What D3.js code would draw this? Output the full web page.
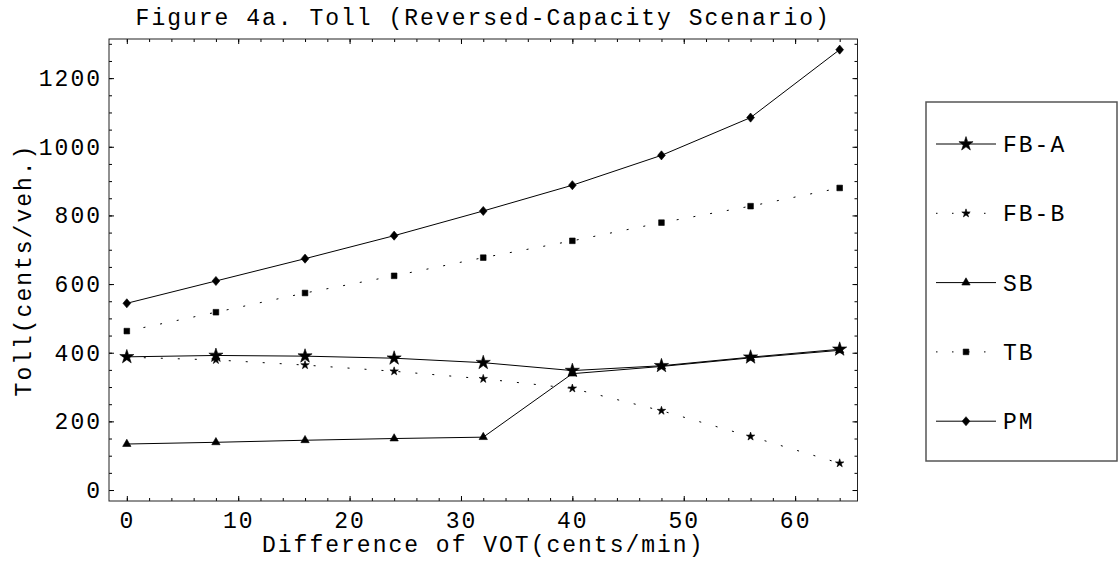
<!doctype html>
<html>

<head>
  <meta charset="UTF-8">
  <title>Figure 4a. Toll</title>
  <script src="https://d3js.org/d3.v7.min.js"></script>
  <style>
    body { margin: 0; background: #fff; }
    text { font-family: "Courier New", Courier, "Liberation Mono", monospace; fill: #000; letter-spacing: 2px; }
  </style>
</head>

<body>
  <script>
    // data
    var vot = [0, 8, 16, 24, 32, 40, 48, 56, 64];
    var fbA = [388, 392, 390, 384, 371, 348, 362, 387, 410];
    var fbB = [387, 379, 364, 346, 324, 296, 231, 156, 78];
    var sb  = [134, 139, 145, 150, 154, 339, 360, 385, 407];
    var tb  = [463, 518, 574, 624, 677, 726, 779, 827, 880];
    var pm  = [544, 609, 674, 741, 813, 888, 975, 1085, 1283];
    var seriesNames = ["FB-A", "FB-B", "SB", "TB", "PM"];
    var xTicks = [0, 10, 20, 30, 40, 50, 60];
    var yTicks = [0, 200, 400, 600, 800, 1000, 1200];

    var w = 1118, h = 561;
    var pLeft = 109, pRight = 857.5, pTop = 39, pBottom = 501;
    var fs = 23;

    // tall diamond, like the Mathematica marker
    var tallDiamond = {
      draw: function(ctx, size) {
        var hh = Math.sqrt(size) * 0.62, hw = hh * 0.85;
        ctx.moveTo(0, -hh);
        ctx.lineTo(hw, 0);
        ctx.lineTo(0, hh);
        ctx.lineTo(-hw, 0);
        ctx.closePath();
      }
    };

    var series = [
      { name: seriesNames[0], values: fbA, dash: null, type: d3.symbolStar, size: 62 },
      { name: seriesNames[1], values: fbB, dash: "2,15", type: d3.symbolStar, size: 22 },
      { name: seriesNames[2], values: sb, dash: null, type: d3.symbolTriangle, size: 30 },
      { name: seriesNames[3], values: tb, dash: "2,15", type: d3.symbolSquare, size: 32 },
      { name: seriesNames[4], values: pm, dash: null, type: tallDiamond, size: 54 }
    ];

    var x = d3.scaleLinear().domain([-1.6, 65.6]).range([pLeft, pRight]);
    var y = d3.scaleLinear().domain([-32, 1314]).range([pBottom, pTop]);

    var svg = d3.select("body").append("svg")
      .attr("width", w)
      .attr("height", h);

    svg.append("rect").attr("width", w).attr("height", h).attr("fill", "#fff");

    // ticks on all four sides, pointing in
    function ticks(axis, tx, ty, values, size, labels, pad) {
      var g = svg.append("g")
        .attr("transform", "translate(" + tx + "," + ty + ")")
        .call(axis.tickValues(values).tickSize(-size).tickPadding(pad || 0)
          .tickFormat(labels ? d3.format("d") : ""));
      g.select(".domain").remove();
      g.selectAll("line").attr("stroke", "#000");
      g.selectAll("text").attr("font-size", fs).attr("font-family", null);
      return g;
    }

    var xMinor = d3.range(0, 66, 2);
    var yMinor = d3.range(0, 1314, 50);

    ticks(d3.axisBottom(x), 0, pBottom, xMinor, 3, false);
    ticks(d3.axisBottom(x), 0, pBottom, xTicks, 5, true, 11);
    ticks(d3.axisTop(x), 0, pTop, xMinor, 3, false);
    ticks(d3.axisTop(x), 0, pTop, xTicks, 5, false);
    ticks(d3.axisLeft(y), pLeft, 0, yMinor, 3, false);
    ticks(d3.axisLeft(y), pLeft, 0, yTicks, 5, true, 7);
    ticks(d3.axisRight(y), pRight, 0, yMinor, 3, false);
    ticks(d3.axisRight(y), pRight, 0, yTicks, 5, false);

    svg.append("rect")
      .attr("x", pLeft).attr("y", pTop)
      .attr("width", pRight - pLeft).attr("height", pBottom - pTop)
      .attr("fill", "none").attr("stroke", "#222").attr("stroke-width", 1);

    // lines
    var line = d3.line()
      .x(function(d, i) { return x(vot[i]); })
      .y(function(d) { return y(d); });

    svg.selectAll("path.series")
      .data(series)
      .enter().append("path")
      .attr("class", "series")
      .attr("d", function(s) { return line(s.values); })
      .attr("fill", "none")
      .attr("stroke", "#000")
      .attr("stroke-width", 1)
      .attr("stroke-dasharray", function(s) { return s.dash; });

    // markers
    series.forEach(function(s) {
      svg.selectAll(null)
        .data(s.values)
        .enter().append("path")
        .attr("transform", function(d, i) { return "translate(" + x(vot[i]) + "," + y(d) + ")"; })
        .attr("d", d3.symbol().type(s.type).size(s.size))
        .attr("fill", "#000")
        .attr("stroke", "#000")
        .attr("stroke-width", 0.6)
        .attr("stroke-linejoin", "round");
    });

    // titles
    svg.append("text")
      .attr("x", (pLeft + pRight) / 2).attr("y", 25)
      .attr("text-anchor", "middle").attr("font-size", fs)
      .text("Figure 4a. Toll (Reversed-Capacity Scenario)");

    svg.append("text")
      .attr("x", (pLeft + pRight) / 2).attr("y", 552)
      .attr("text-anchor", "middle").attr("font-size", fs)
      .text("Difference of VOT(cents/min)");

    svg.append("text")
      .attr("transform", "translate(31," + (pTop + pBottom) / 2 + ") rotate(-90)")
      .attr("text-anchor", "middle").attr("font-size", fs)
      .text("Toll(cents/veh.)");

    // legend
    var lg = svg.append("g");
    lg.append("rect")
      .attr("x", 926).attr("y", 102).attr("width", 191).attr("height", 359)
      .attr("fill", "#fff").attr("stroke", "#555").attr("stroke-width", 1.5);

    var item = lg.selectAll("g.item")
      .data(series)
      .enter().append("g")
      .attr("class", "item")
      .attr("transform", function(d, i) { return "translate(0," + (144 + i * 69.3) + ")"; });

    item.append("line")
      .attr("x1", 936).attr("x2", 996)
      .attr("stroke", "#000").attr("stroke-width", 1)
      .attr("stroke-dasharray", function(s) { return s.dash ? "1.5,14.5" : null; });

    item.append("path")
      .attr("transform", "translate(966,0)")
      .attr("d", function(s) { return d3.symbol().type(s.type).size(s.size)(); })
      .attr("fill", "#000")
      .attr("stroke", "#000")
      .attr("stroke-width", 0.6);

    item.append("text")
      .attr("x", 1003).attr("dy", "0.35em").attr("font-size", fs)
      .text(function(s) { return s.name; });
  </script>
</body>

</html>
